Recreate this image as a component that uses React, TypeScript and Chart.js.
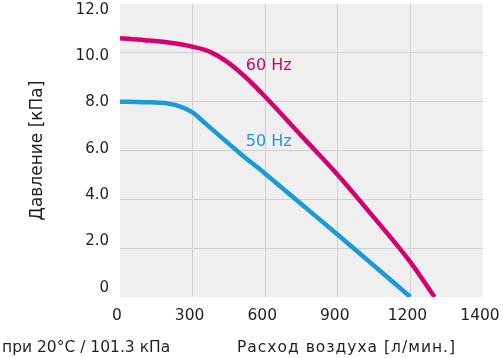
import React, { useEffect, useRef } from 'react';
import { Chart, registerables } from 'chart.js';

Chart.register(...registerables);

// Air flow [l/min] and pressure [kPa]
const airflow60 = [0, 100, 200, 300, 370, 440, 525, 600, 750, 900, 1050, 1200, 1300];
const pressure60 = [10.6, 10.52, 10.42, 10.25, 10.05, 9.65, 8.95, 8.2, 6.6, 5.0, 3.25, 1.43, 0];
const airflow50 = [0, 100, 200, 250, 300, 350, 400, 500, 600, 750, 900, 1050, 1200];
const pressure50 = [8.0, 7.98, 7.92, 7.8, 7.56, 7.13, 6.7, 5.85, 5.05, 3.8, 2.55, 1.28, 0];

const xTickValues = [0, 300, 600, 900, 1200, 1500];
const xTickLabels = ['0', '300', '600', '900', '1200', '1400'];
const yTickValues = [0, 2, 4, 6, 8, 10, 12];
const yTickLabels = ['0', '2.0', '4.0', '6.0', '8.0', '10.0', '12.0'];

const seriesNames = ['60 Hz', '50 Hz'];
const seriesLabelAnchorX = [520, 520];
const seriesLabelAnchorY = [9.3, 6.2];

const yTitle = 'Давление [кПа]';
const xTitle = 'Расход воздуха [л/мин.]';
const footnote = 'при 20°C / 101.3 кПа';

const MAGENTA = '#d4006f';
const BLUE = '#1b9ad6';
const TEXT = '#231f20';
const FONT = "'DejaVu Sans', sans-serif";

export default function App() {
  const ref = useRef<HTMLCanvasElement | null>(null);

  useEffect(() => {
    document.body.style.margin = '0';
    const canvas = ref.current;
    if (!canvas) return;

    const bgPlugin = {
      id: 'plotBg',
      beforeDraw(chart: any) {
        const { ctx, chartArea } = chart;
        ctx.save();
        ctx.fillStyle = '#efefef';
        ctx.fillRect(chartArea.left, chartArea.top, chartArea.right - chartArea.left, chartArea.bottom - chartArea.top);
        ctx.restore();
      },
      afterDraw(chart: any) {
        const { ctx, scales } = chart;
        const xs = scales.x;
        const ys = scales.y;
        ctx.save();
        ctx.font = `16px ${FONT}`;
        ctx.textBaseline = 'alphabetic';
        ctx.textAlign = 'left';
        const colors = [MAGENTA, BLUE];
        seriesNames.forEach((name, i) => {
          ctx.fillStyle = colors[i];
          ctx.fillText(name, xs.getPixelForValue(seriesLabelAnchorX[i]), ys.getPixelForValue(seriesLabelAnchorY[i]));
        });
        ctx.fillStyle = TEXT;
        ctx.font = `15.5px ${FONT}`;
        ctx.textAlign = 'left';
        ctx.fillText(footnote, 2, 352);
        try { (ctx as any).letterSpacing = '1px'; } catch (e) { /* ignore */ }
        ctx.fillText(xTitle, 237, 352);
        try { (ctx as any).letterSpacing = '0px'; } catch (e) { /* ignore */ }
        ctx.restore();
      },
    };

    const chart = new Chart(canvas, {
      type: 'line',
      data: {
        datasets: [
          {
            label: seriesNames[0],
            data: airflow60.map((x, i) => ({ x, y: pressure60[i] })),
            borderColor: MAGENTA,
            borderWidth: 4.5,
            pointRadius: 0,
            cubicInterpolationMode: 'monotone',
            fill: false,
            yAxisID: 'y',
          },
          {
            label: seriesNames[1],
            data: airflow50.map((x, i) => ({ x, y: pressure50[i] })),
            borderColor: BLUE,
            borderWidth: 4.5,
            pointRadius: 0,
            cubicInterpolationMode: 'monotone',
            fill: false,
            yAxisID: 'y',
          },
        ],
      },
      options: {
        animation: false,
        responsive: false,
        maintainAspectRatio: false,
        layout: { padding: { left: 0, right: 20, top: 4, bottom: 0 } },
        plugins: {
          legend: { display: false },
          tooltip: { enabled: false },
        },
        scales: {
          x: {
            type: 'linear',
            min: 0,
            max: 1500,
            afterBuildTicks(scale: any) {
              scale.ticks = xTickValues.map((v) => ({ value: v }));
            },
            afterFit(scale: any) {
              scale.height = 61;
              scale.paddingLeft = 0;
              scale.paddingRight = 0;
            },
            border: { display: false },
            grid: {
              drawTicks: false,
              color: (c: any) => (c.tick && (c.tick.value === 0 || c.tick.value === 1500) ? 'rgba(0,0,0,0)' : '#d0d0d0'),
              lineWidth: 1,
            },
            ticks: {
              padding: 10,
              labelOffset: -3,
              color: TEXT,
              font: { family: FONT, size: 15.5 },
              maxRotation: 0,
              autoSkip: false,
              callback: (v: any) => {
                const idx = xTickValues.indexOf(Number(v));
                return idx >= 0 ? xTickLabels[idx] : '';
              },
            },
          },
          // axis carrying the tick labels (the printed labels sit slightly inside the gridline span)
          yLabels: {
            type: 'linear',
            position: 'left',
            min: -0.4,
            max: 12.26,
            afterBuildTicks(scale: any) {
              scale.ticks = yTickValues.map((v) => ({ value: v }));
            },
            afterFit(scale: any) {
              scale.width = 120;
              scale.paddingTop = 0;
              scale.paddingBottom = 0;
            },
            border: { display: false },
            grid: { display: false, drawTicks: false },
            title: {
              display: true,
              text: yTitle,
              color: TEXT,
              font: { family: FONT, size: 17 },
              padding: { top: 27, bottom: 0 },
            },
            ticks: {
              padding: 11,
              color: TEXT,
              font: { family: FONT, size: 15 },
              autoSkip: false,
              callback: (v: any) => {
                const idx = yTickValues.indexOf(Number(v));
                return idx >= 0 ? yTickLabels[idx] : '';
              },
            },
          },
          y: {
            type: 'linear',
            position: 'left',
            min: 0,
            max: 12,
            afterBuildTicks(scale: any) {
              scale.ticks = yTickValues.map((v) => ({ value: v }));
            },
            afterFit(scale: any) {
              scale.width = 0;
              scale.paddingTop = 0;
              scale.paddingBottom = 0;
            },
            border: { display: false },
            grid: {
              drawTicks: false,
              color: (c: any) => (c.tick && (c.tick.value === 0 || c.tick.value === 12) ? 'rgba(0,0,0,0)' : '#d0d0d0'),
              lineWidth: 1,
            },
            ticks: { display: false },
          },
        },
      },
      plugins: [bgPlugin],
    } as any);

    return () => chart.destroy();
  }, []);

  return (
    <div style={{ position: 'absolute', left: 0, top: 0, width: 503, height: 358, background: '#fff' }}>
      <canvas ref={ref} width={503} height={358} style={{ display: 'block', width: 503, height: 358 }} />
    </div>
  );
}
